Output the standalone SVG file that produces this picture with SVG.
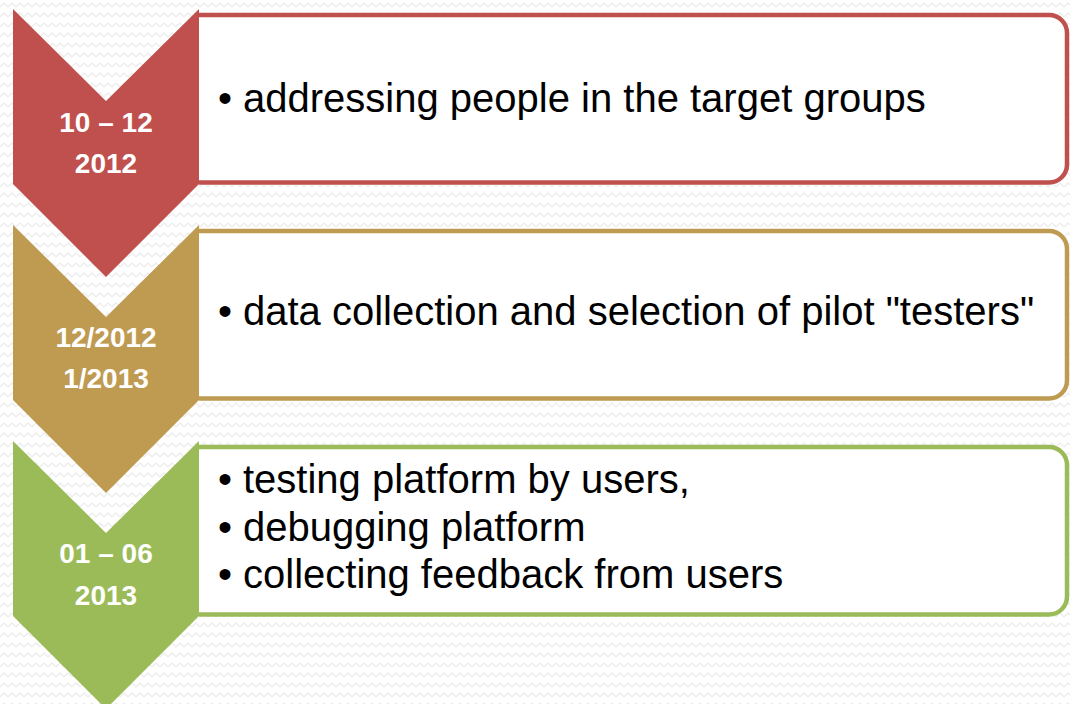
<svg xmlns="http://www.w3.org/2000/svg" width="1070" height="704" viewBox="0 0 1070 704">
  <defs>
    <pattern id="zig" width="8" height="10" patternUnits="userSpaceOnUse">
      <path d="M0 7 L4 3 L8 7" fill="none" stroke="#ededed" stroke-width="1.3"/>
    </pattern>
  </defs>
  <style>
    .box { fill: #ffffff; stroke-width: 4.5; }
    .lbl { font-family: "Liberation Sans", Arial, sans-serif; font-weight: bold; font-size: 28px; fill: #ffffff; text-anchor: middle; }
    .txt { font-family: "Liberation Sans", Arial, sans-serif; font-size: 40px; fill: #000000; }
    .red { fill: #C0504D; } .redS { stroke: #C0504D; }
    .tan { fill: #BF9B52; } .tanS { stroke: #BF9B52; }
    .grn { fill: #9BBB59; } .grnS { stroke: #9BBB59; }
  </style>
  <rect width="1070" height="704" fill="#ffffff"/>
  <rect width="1070" height="704" fill="url(#zig)"/>

  <g id="step1">
    <path class="box redS" d="M199 15 H1049 A18 18 0 0 1 1067 33 V164.5 A18 18 0 0 1 1049 182.5 H199"/>
    <polygon class="red" points="13,9 106,101 199,9 199,184 106,277 13,184"/>
    <text class="lbl" x="106" y="132">10 – 12</text>
    <text class="lbl" x="106" y="173">2012</text>
    <text class="txt" x="218" y="112">•</text>
    <text class="txt" x="243" y="112">addressing people in the target groups</text>
  </g>

  <g id="step2">
    <path class="box tanS" d="M199 231 H1049 A18 18 0 0 1 1067 249 V380.5 A18 18 0 0 1 1049 398.5 H199"/>
    <polygon class="tan" points="13,225 106,317 199,225 199,400 106,493 13,400"/>
    <text class="lbl" x="106" y="347">12/2012</text>
    <text class="lbl" x="106" y="388">1/2013</text>
    <text class="txt" x="218" y="325">•</text>
    <text class="txt" x="243" y="325">data collection and selection of pilot "testers"</text>
  </g>

  <g id="step3">
    <path class="box grnS" d="M199 447 H1049 A18 18 0 0 1 1067 465 V596.5 A18 18 0 0 1 1049 614.5 H199"/>
    <polygon class="grn" points="13,441 106,533 199,441 199,616 106,709 13,616"/>
    <text class="lbl" x="106" y="563">01 – 06</text>
    <text class="lbl" x="106" y="605">2013</text>
    <text class="txt" x="218" y="493">•</text>
    <text class="txt" x="243" y="493">testing platform by users,</text>
    <text class="txt" x="218" y="541">•</text>
    <text class="txt" x="243" y="541">debugging platform</text>
    <text class="txt" x="218" y="588">•</text>
    <text class="txt" x="243" y="588">collecting feedback from users</text>
  </g>
</svg>
